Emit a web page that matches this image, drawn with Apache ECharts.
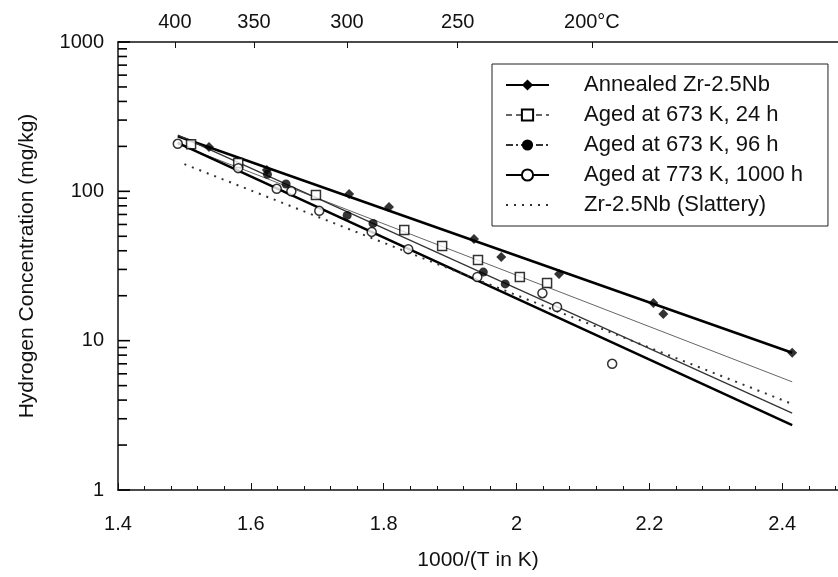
<!DOCTYPE html>
<html>
<head>
<meta charset="utf-8">
<script src="https://cdn.jsdelivr.net/npm/echarts@6/dist/echarts.min.js"></script>
<style>
html, body { margin: 0; padding: 0; background: #fff; }
#chart { width: 838px; height: 577px; }
</style>
</head>
<body>
<div id="chart"></div>
<script>
// measured points, x = 1000/T (K), y = mg/kg
var annealedPts = [[1.537, 198], [1.624, 139], [1.748, 96], [1.808, 78.5], [1.936, 48], [1.977, 36.3], [2.064, 27.9], [2.206, 17.9], [2.221, 15.1], [2.415, 8.3]];
var aged24Pts = [[1.510, 207], [1.581, 155], [1.698, 94.5], [1.831, 55], [1.888, 43], [1.942, 34.7], [2.005, 26.7], [2.046, 24.3]];
var aged96Pts = [[1.625, 130], [1.653, 112], [1.745, 69], [1.784, 61], [1.950, 28.8], [1.983, 24]];
var aged1000Pts = [[1.490, 208], [1.581, 143], [1.639, 104], [1.661, 100], [1.703, 74], [1.782, 53.5], [1.837, 41], [1.941, 26.7], [2.039, 20.8], [2.061, 16.8], [2.144, 7.0]];

// fitted lines (end points)
var annealedFit = [[1.49, 234], [2.415, 8.3]];
var aged24Fit = [[1.49, 207], [2.415, 5.3]];
var aged96Fit = [[1.49, 238], [2.415, 3.27]];
var aged1000Fit = [[1.49, 211], [2.415, 2.72]];
var slatteryFit = [[1.50, 152], [2.415, 3.77]];

var names = ['Annealed Zr-2.5Nb', 'Aged at 673 K, 24 h', 'Aged at 673 K, 96 h', 'Aged at 773 K, 1000 h', 'Zr-2.5Nb (Slattery)'];
var tempC = [400, 350, 300, 250, 200];
var yTickValues = [1, 2, 3, 4, 5, 6, 7, 8, 9, 10, 20, 30, 40, 50, 60, 70, 80, 90, 100, 200, 300, 400, 500, 600, 700, 800, 900, 1000];

var font = 'Liberation Sans, Arial, sans-serif';
var xMin = 1.4;
var xMax = 2.484;

var topTicks = tempC.map(function(c) { return 1000 / (c + 273.15); });

function fitData(arr) {
	return arr.map(function(p) { return { value: p, symbol: 'none' }; });
}

var openStyle = { color: '#fff', borderColor: '#000', borderWidth: 1.5 };
var fillStyle = { color: '#000', borderColor: '#000', borderWidth: 0 };

var chart = echarts.init(document.getElementById('chart'));

var option = {
	animation: false,
	backgroundColor: '#fff',
	textStyle: { fontFamily: font, color: '#111' },
	grid: { left: 118, top: 42, right: 0, bottom: 87 },
	legend: {
		orient: 'vertical',
		left: 492,
		top: 64,
		backgroundColor: '#fff',
		borderColor: '#222',
		borderWidth: 1,
		padding: [10, 25, 10, 13],
		itemWidth: 43,
		itemHeight: 14,
		itemGap: 8,
		textStyle: { fontFamily: font, fontSize: 22, color: '#111', padding: [0, 0, 0, 30] },
		data: [
			{ name: names[0] },
			{ name: names[1], lineStyle: { type: [6, 4] } },
			{ name: names[2], lineStyle: { type: [7, 3, 2, 3] } },
			{ name: names[3] },
			{ name: names[4], itemStyle: { color: 'rgba(0,0,0,0)', borderWidth: 0 } }
		]
	},
	xAxis: [{
		type: 'value',
		min: xMin,
		max: xMax,
		interval: 0.2,
		name: '1000/(T in K)',
		nameLocation: 'middle',
		nameGap: 60,
		nameTextStyle: { fontFamily: font, fontSize: 21, color: '#111' },
		axisLine: { lineStyle: { color: '#111', width: 1.5 } },
		axisTick: { inside: true, length: 7, lineStyle: { color: '#111' } },
		minorTick: { show: true, splitNumber: 5, length: 4, lineStyle: { color: '#111' } },
		axisLabel: { fontFamily: font, fontSize: 20, color: '#111', margin: 24, showMaxLabel: false },
		splitLine: { show: false }
	}, {
		type: 'value',
		position: 'top',
		min: xMin,
		max: xMax,
		axisLine: { lineStyle: { color: '#111', width: 1.5 } },
		axisTick: { inside: true, length: 6, customValues: topTicks, lineStyle: { color: '#111' } },
		axisLabel: {
			fontFamily: font, fontSize: 20, color: '#111', margin: 10,
			customValues: topTicks,
			formatter: function(v) {
				var c = Math.round(1000 / v - 273.15);
				return c === 200 ? c + '°C' : '' + c;
			}
		},
		splitLine: { show: false }
	}],
	yAxis: {
		type: 'log',
		logBase: 10,
		min: 1,
		max: 1000,
		name: 'Hydrogen Concentration (mg/kg)',
		nameLocation: 'middle',
		nameGap: 80,
		nameTextStyle: { fontFamily: font, fontSize: 21, color: '#111' },
		axisLine: { show: true, lineStyle: { color: '#111', width: 1.5 } },
		axisTick: { show: false },
		axisLabel: {
			fontFamily: font, fontSize: 20, color: '#111', margin: 14,
			formatter: function(v) { return String(Math.round(v)); }
		},
		splitLine: { show: false }
	},
	series: [
		{ name: names[0], type: 'line', data: fitData(annealedFit), symbol: 'diamond', symbolSize: 9, showSymbol: true,
			itemStyle: fillStyle, lineStyle: { color: '#000', width: 2.5 }, z: 3 },
		{ name: names[1], type: 'line', data: fitData(aged24Fit), symbol: 'rect', symbolSize: 8, showSymbol: true,
			itemStyle: openStyle, lineStyle: { color: '#666', width: 1 }, z: 3 },
		{ name: names[2], type: 'line', data: fitData(aged96Fit), symbol: 'circle', symbolSize: 9, showSymbol: true,
			itemStyle: fillStyle, lineStyle: { color: '#333', width: 1.2 }, z: 3 },
		{ name: names[3], type: 'line', data: fitData(aged1000Fit), symbol: 'circle', symbolSize: 8, showSymbol: true,
			itemStyle: openStyle, lineStyle: { color: '#000', width: 2.5 }, z: 3 },
		{ name: names[4], type: 'line', data: fitData(slatteryFit), symbol: 'none',
			itemStyle: { color: '#333' }, lineStyle: { color: '#333', width: 2, type: [2, 6] }, z: 3 },

		{ name: 'annealedPts', type: 'scatter', data: annealedPts, symbol: 'diamond', symbolSize: 10, itemStyle: fillStyle, z: 5 },
		{ name: 'aged24Pts', type: 'scatter', data: aged24Pts, symbol: 'rect', symbolSize: 9, itemStyle: openStyle, z: 5 },
		{ name: 'aged96Pts', type: 'scatter', data: aged96Pts, symbol: 'circle', symbolSize: 9, itemStyle: fillStyle, z: 5 },
		{ name: 'aged1000Pts', type: 'scatter', data: aged1000Pts, symbol: 'circle', symbolSize: 9, itemStyle: openStyle, z: 5 }
	]
};

chart.setOption(option);

// log axis ticks (1..9 per decade), placed through the chart's own log scale
var tickGraphics = [];
yTickValues.forEach(function(v) {
	var p = chart.convertToPixel({ xAxisIndex: 0, yAxisIndex: 0 }, [xMin, v]);
	if (!p) {
		return;
	}
	var lg = Math.log(v) / Math.LN10;
	var len = Math.abs(lg - Math.round(lg)) < 1e-6 ? 12 : 9;
	tickGraphics.push({
		type: 'line',
		silent: true,
		z: 100,
		shape: { x1: p[0], y1: p[1], x2: p[0] + len, y2: p[1] },
		style: { stroke: '#000', lineWidth: 1.6 }
	});
});
chart.setOption({ graphic: tickGraphics });
</script>
</body>
</html>
